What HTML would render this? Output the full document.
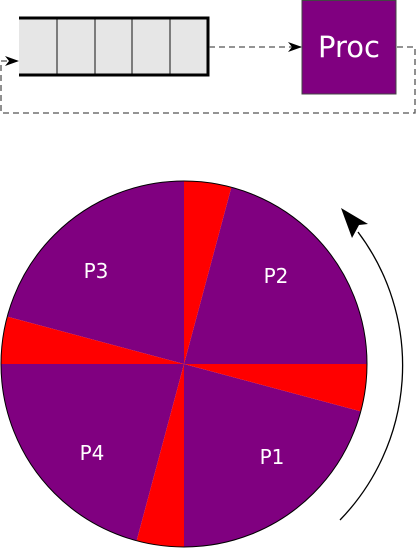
<!DOCTYPE html>
<html><head><meta charset="utf-8"><style>body{margin:0;background:#fff}svg{display:block}</style></head>
<body>
<svg width="417" height="549" viewBox="0 0 417 549" font-family="'DejaVu Sans','Liberation Sans',sans-serif">
<defs><marker id="ah" markerWidth="14" markerHeight="10" refX="13" refY="5" orient="auto" markerUnits="userSpaceOnUse"><path d="M0,0 L14,5 L0,10 L4,5 Z" fill="#000"/></marker></defs>
<g>
<rect x="19" y="18" width="189" height="57" fill="#e6e6e6"/>
<g stroke="#444" stroke-width="1.3">
<line x1="57" y1="18" x2="57" y2="75"/><line x1="95" y1="18" x2="95" y2="75"/><line x1="132" y1="18" x2="132" y2="75"/><line x1="170" y1="18" x2="170" y2="75"/>
</g>
<path d="M19,18 H208 V75 H19" fill="none" stroke="#000" stroke-width="3"/>
</g>
<line x1="209" y1="47" x2="301" y2="47" stroke="#555" stroke-width="1.3" stroke-dasharray="6,4" marker-end="url(#ah)"/>
<path d="M397,47 H415 V113 H1 V61 H18" fill="none" stroke="#555" stroke-width="1.3" stroke-dasharray="6,4" marker-end="url(#ah)"/>
<g>
<rect x="302" y="0.5" width="94" height="93.5" fill="#800080" stroke="#444" stroke-width="1"/>
<text x="349" y="57" fill="#fff" font-size="29" text-anchor="middle">Proc</text>
</g>
<g id="pie"></g>
<g>
<path d="M340,520 A222,222 0 0 0 358,232" fill="none" stroke="#000" stroke-width="1.3"/>
<polygon points="341,208 368,224 359,225 352,238" fill="#000"/>
</g>
</svg>
<script>
const sliceNames=["P2","gap2","P3","gap3","P4","gap4","P1","gap1"];
const sliceDegrees=[75,15,75,15,75,15,75,15];
const startDeg=0;
const labelPos={P2:[276,283],P3:[96,278],P4:[92,460],P1:[272,464]};
const cx=184,cy=364,r=183;
const g=document.getElementById('pie');
let a=startDeg;
sliceNames.forEach((n,i)=>{
 const a0=a*Math.PI/180,a1=(a+sliceDegrees[i])*Math.PI/180;
 const p=document.createElementNS('http://www.w3.org/2000/svg','path');
 const x0=cx+r*Math.cos(a0),y0=cy-r*Math.sin(a0),x1=cx+r*Math.cos(a1),y1=cy-r*Math.sin(a1);
 p.setAttribute('d',`M${cx},${cy} L${x0},${y0} A${r},${r} 0 0 0 ${x1},${y1} Z`);
 p.setAttribute('fill',n.startsWith('P')?'#800080':'#ff0000');
 
 
 g.appendChild(p);
 if(n.startsWith('P')){
  const t=document.createElementNS('http://www.w3.org/2000/svg','text');
  t.setAttribute('x',labelPos[n][0]);t.setAttribute('y',labelPos[n][1]);
  t.setAttribute('fill','#fff');t.setAttribute('font-size','20');t.setAttribute('text-anchor','middle');
  
  
  t.textContent=n;g.appendChild(t);
 }
 a+=sliceDegrees[i];
});
const c=document.createElementNS('http://www.w3.org/2000/svg','circle');
c.setAttribute('cx',cx);c.setAttribute('cy',cy);c.setAttribute('r',r);c.setAttribute('fill','none');c.setAttribute('stroke','#000');c.setAttribute('stroke-width','1');


g.appendChild(c);
</script>
</body></html>
